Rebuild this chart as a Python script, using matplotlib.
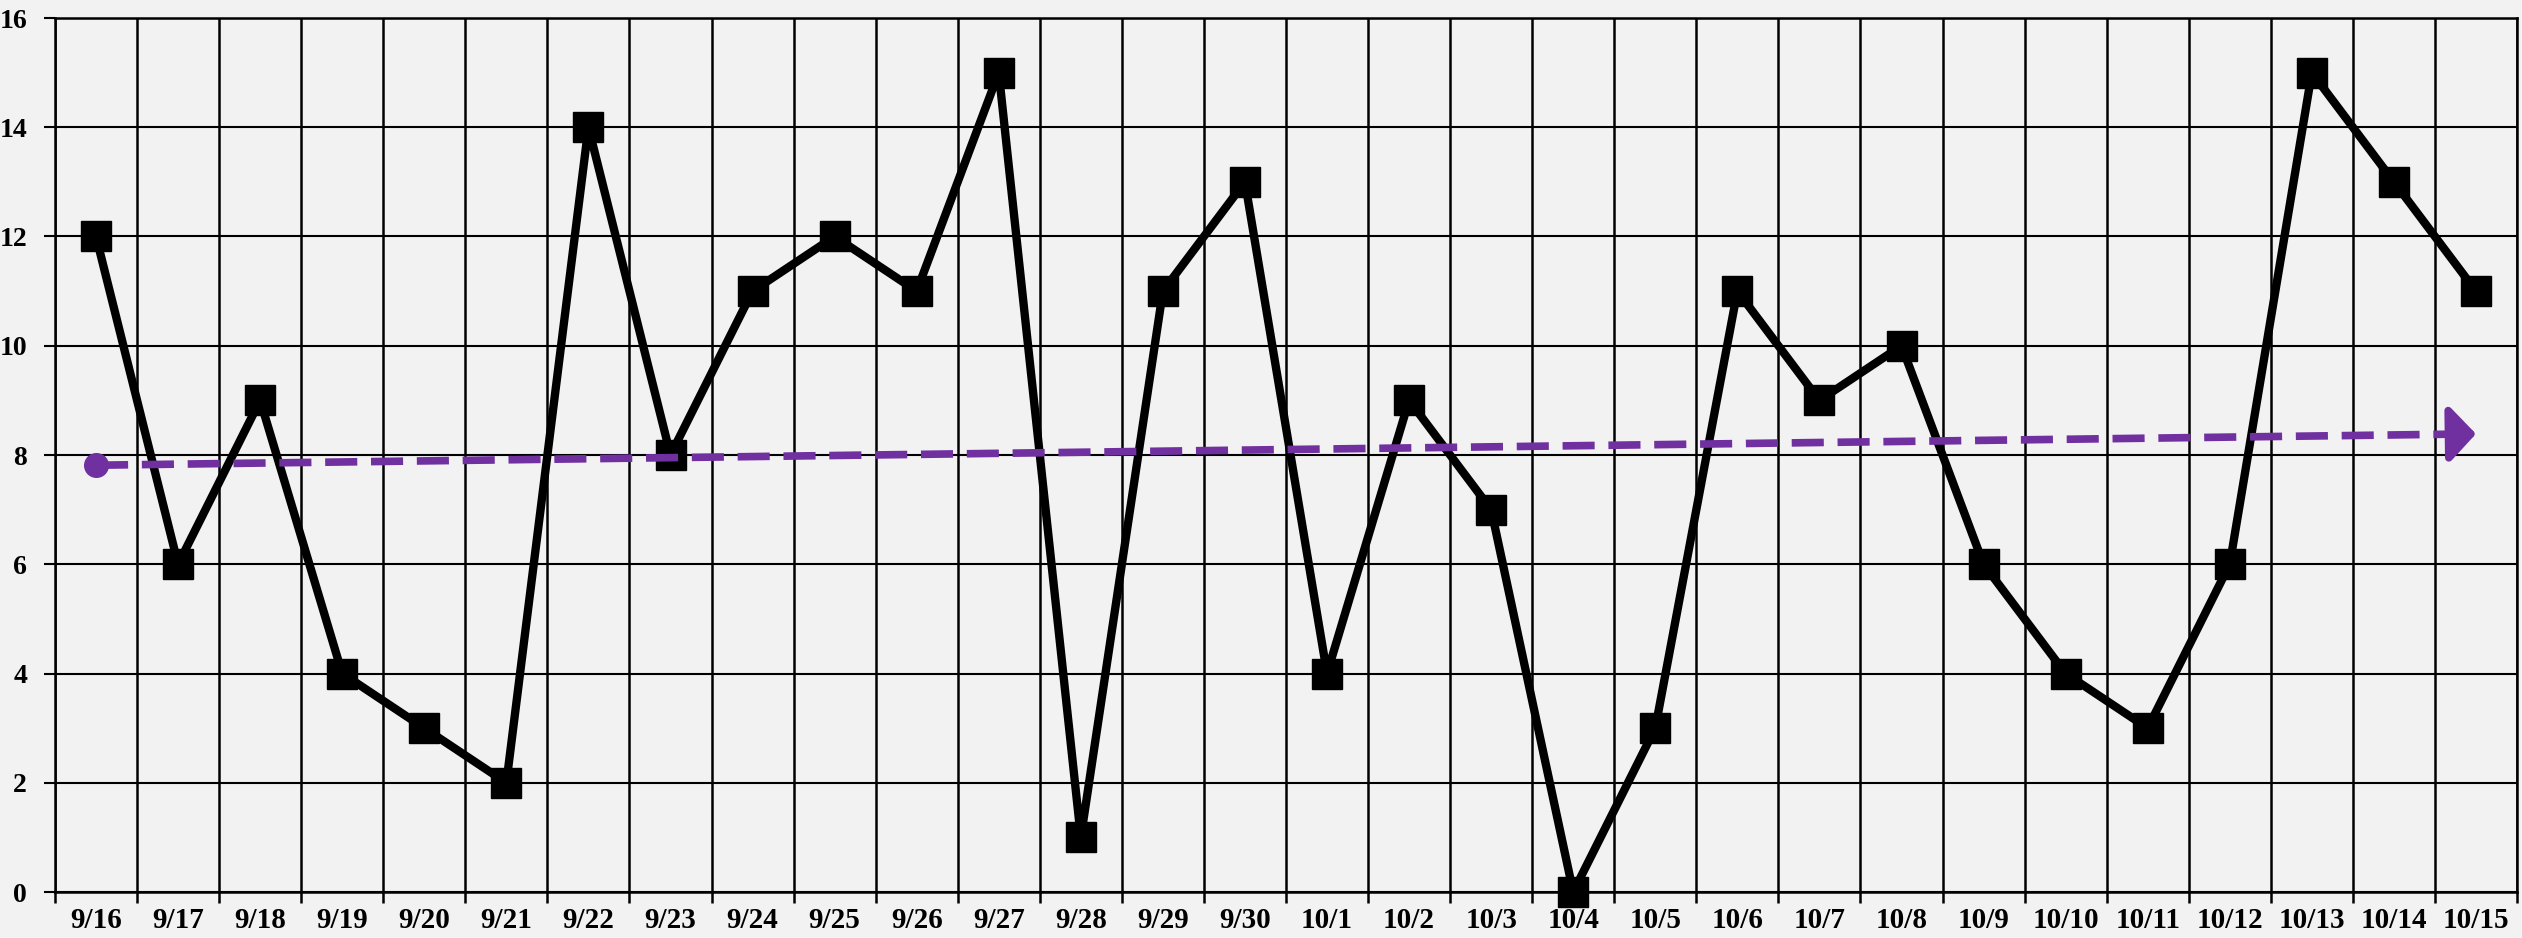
import numpy as np
import matplotlib
matplotlib.use("Agg")
import matplotlib.pyplot as plt

dates = ["9/16","9/17","9/18","9/19","9/20","9/21","9/22","9/23","9/24","9/25",
         "9/26","9/27","9/28","9/29","9/30","10/1","10/2","10/3","10/4","10/5",
         "10/6","10/7","10/8","10/9","10/10","10/11","10/12","10/13","10/14","10/15"]
values = [12, 6, 9, 4, 3, 2, 14, 8, 11, 12,
          11, 15, 1, 11, 13, 4, 9, 7, 0, 3,
          11, 9, 10, 6, 4, 3, 6, 15, 13, 11]
y_ticks = [0, 2, 4, 6, 8, 10, 12, 14, 16]

plt.rcParams['font.family'] = ['Liberation Serif', 'DejaVu Serif']
plt.rcParams['font.weight'] = 'bold'

bg = '#f2f2f2'
fig = plt.figure(figsize=(25.22, 9.38), dpi=100, facecolor=bg)
ax = fig.add_axes([55/2522, 46/938, (2517-55)/2522, (892-18)/938])
ax.set_facecolor(bg)

x = np.arange(len(values))
ax.set_xlim(-0.5, len(values) - 0.5)
ax.set_ylim(0, 16)

# grid
ax.set_yticks(y_ticks)
ax.set_xticks(x)
ax.set_xticklabels(dates)
ax.set_xticks(np.arange(len(values) + 1) - 0.5, minor=True)
ax.grid(axis='y', which='major', color='black', linewidth=1.5)
ax.grid(axis='x', which='minor', color='black', linewidth=1.8)
ax.set_axisbelow(True)
ax.tick_params(axis='x', which='major', length=0, pad=11, labelsize=21)
ax.tick_params(axis='x', which='minor', length=8, width=1.8, direction='out')
ax.tick_params(axis='y', length=8, width=1.5, direction='out', pad=12, labelsize=20)
for s in ax.spines.values():
    s.set_color('black')
    s.set_linewidth(1.8)

# data
ax.plot(x, values, color='black', linewidth=6, marker='s', markersize=21,
        markerfacecolor='black', markeredgecolor='black', clip_on=False, zorder=4)

# trend line
coef = np.polyfit(x, values, 1)
t0 = coef[1]
t1 = coef[0] * x[-1] + coef[1]
purple = '#7030A0'
xe = x[-1] - 0.26
ax.plot([x[0], xe], [t0, coef[0] * xe + coef[1]], color=purple, linewidth=5.5,
        linestyle=(0, (4.2, 1.8)), zorder=5)
ax.plot([x[0]], [t0], marker='o', markersize=17, color=purple, zorder=5)
ax.annotate('', xy=(x[-1], t1), xytext=(xe - 0.01, coef[0] * (xe - 0.01) + coef[1]),
            arrowprops=dict(arrowstyle='-|>,head_length=1.6,head_width=1.7',
                            color=purple, lw=5.5, shrinkA=0, shrinkB=0),
            zorder=5)

fig.savefig('out.png', dpi=100, facecolor=bg)
